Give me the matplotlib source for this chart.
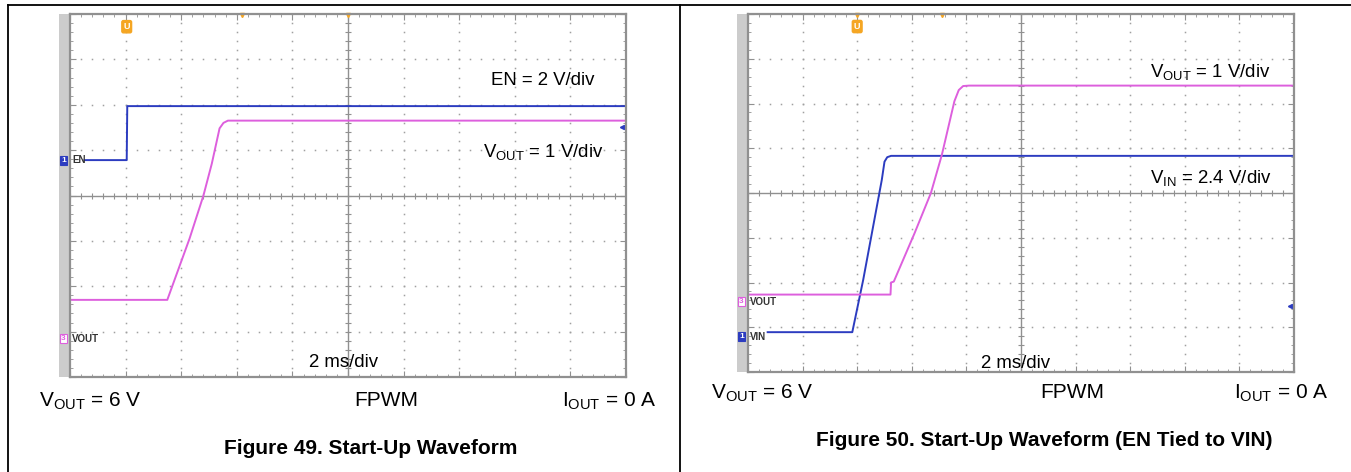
import numpy as np
import matplotlib.pyplot as plt
from matplotlib.patches import Rectangle
from matplotlib.lines import Line2D

plt.rcParams['font.family'] = ['Liberation Sans', 'DejaVu Sans']
plt.rcParams['mathtext.fontset'] = 'custom'
plt.rcParams['mathtext.rm'] = 'Liberation Sans'
plt.rcParams['mathtext.it'] = 'Liberation Sans'

W, H = 1351, 472

# traces, in scope divisions (x: 0..10 div, 2 ms/div ; y: -4..4 div)
# figure 49
en_x = [0.26, 1.02, 1.03, 10.0]
en_y = [0.78, 0.78, 1.97, 1.97]
vout1_x = [0.0, 1.75, 1.88, 2.15, 2.40, 2.55, 2.69, 2.76, 2.84, 10.0]
vout1_y = [-2.30, -2.30, -1.86, -0.95, 0.0, 0.70, 1.48, 1.60, 1.65, 1.65]
# figure 50
vin_x = [0.36, 1.91, 2.11, 2.45, 2.50, 2.55, 2.62, 10.0]
vin_y = [-3.11, -3.11, -1.94, 0.29, 0.70, 0.80, 0.83, 0.83]
vout2_x = [0.0, 2.61, 2.62, 2.67, 3.05, 3.35, 3.55, 3.78, 3.86, 3.94, 4.05, 10.0]
vout2_y = [-2.27, -2.27, -2.0, -1.98, -0.9, 0.0, 0.85, 2.05, 2.30, 2.39, 2.40, 2.40]

BLUE = '#2c3cc0'
PINK = '#dd5fdd'
GRID = '#a0a0a0'


def px(x, y):
    return x / W, 1 - y / H


def scope(fig, x0, y0, x1, y1):
    l, b = px(x0, y1)
    ax = fig.add_axes([l, b, (x1 - x0) / W, (y1 - y0) / H])
    ax.set_xlim(0, 10)
    ax.set_ylim(-4, 4)
    # gray strip on the left
    fig.patches.append(Rectangle(px(x0 - 11, y1), 11 / W, (y1 - y0) / H,
                                 transform=fig.transFigure, facecolor='#cccccc',
                                 edgecolor='none', zorder=-1))
    # dotted graticule
    fine_y = np.arange(-4, 4.01, 0.2)
    fine_x = np.arange(0, 10.01, 0.2)
    for gx in range(1, 10):
        if gx != 5:
            ax.plot([gx] * len(fine_y), fine_y, ls='none', marker='s', ms=1.1,
                    mec='none', mfc=GRID)
    for gy in range(-3, 4):
        if gy != 0:
            ax.plot(fine_x, [gy] * len(fine_x), ls='none', marker='s', ms=1.1,
                    mec='none', mfc=GRID)
    # center cross
    ax.axhline(0, color='#909090', lw=1.0)
    ax.axvline(5, color='#909090', lw=1.0)
    ax.plot(fine_x, [0] * len(fine_x), ls='none', marker='|', ms=4, mew=0.8, color='#909090')
    ax.plot([5] * len(fine_y), fine_y, ls='none', marker='_', ms=4, mew=0.8, color='#909090')
    ax.set_xticks(range(0, 11))
    ax.set_yticks(range(-4, 5))
    ax.set_xticks(fine_x, minor=True)
    ax.set_yticks(fine_y, minor=True)
    ax.tick_params(which='both', direction='in', top=True, right=True,
                   labelbottom=False, labelleft=False, color='#909090')
    ax.tick_params(which='major', length=4)
    ax.tick_params(which='minor', length=2.5)
    for s in ax.spines.values():
        s.set_color('#909090')
        s.set_linewidth(1.6)
    return ax


def ch_marker(ax, y, num, color, fill, label, tc):
    ax.text(-0.12, y, num, fontsize=6, color=tc, ha='center', va='center',
            fontweight='bold', clip_on=False, zorder=5,
            bbox=dict(boxstyle='square,pad=0.12', fc=fill, ec=color, lw=0.8))
    ax.text(0.04, y, label, fontsize=7, color='#333333', ha='left', va='center',
            fontweight='bold')


def trig(ax, x):
    ax.text(x, 3.72, 'U', fontsize=6.5, color='white', ha='center', va='center',
            fontweight='bold',
            bbox=dict(boxstyle='round,pad=0.18', fc='#f5a623', ec='#f5a623'))


fig = plt.figure(figsize=(W / 100, H / 100), dpi=100)
fig.add_artist(Line2D([7.5 / W, 1], [1 - 5 / H] * 2, color='black', lw=1.3))
fig.add_artist(Line2D([7.5 / W] * 2, [0, 1 - 5 / H], color='black', lw=1.3))
fig.add_artist(Line2D([679.5 / W] * 2, [0, 1 - 5 / H], color='black', lw=1.3))

# ---------------- Figure 49
ax1 = scope(fig, 70, 14, 626, 377)
ax1.plot(en_x, en_y, color=BLUE, lw=1.4)
ax1.plot(vout1_x, vout1_y, color=PINK, lw=1.4)
ch_marker(ax1, 0.78, '1', BLUE, BLUE, 'EN', 'white')
ch_marker(ax1, -3.16, '3', PINK, 'white', 'VOUT', PINK)
trig(ax1, 1.02)
ax1.plot([5, 3.09], [3.97, 3.97], ls='none', marker='v', ms=3, color='#f5a623', clip_on=False)
ax1.plot([9.93], [1.5], ls='none', marker='<', ms=3, color=BLUE)

fig.text(*px(543, 85), 'EN = 2 V/div', fontsize=13.4, ha='center', va='baseline')
fig.text(*px(543, 157), r'V$_{\mathrm{OUT}}$ = 1 V/div', fontsize=13.4, ha='center', va='baseline')
fig.text(*px(343.5, 367), '2 ms/div', fontsize=13.4, ha='center', va='baseline')
fig.text(*px(39, 406.5), r'V$_{\mathrm{OUT}}$ = 6 V', fontsize=15, ha='left', va='baseline')
fig.text(*px(386.6, 406.5), 'FPWM', fontsize=15, ha='center', va='baseline')
fig.text(*px(656, 406.5), r'I$_{\mathrm{OUT}}$ = 0 A', fontsize=15, ha='right', va='baseline')
fig.text(*px(371, 454), 'Figure 49. Start-Up Waveform', fontsize=15, fontweight='bold',
         ha='center', va='baseline')

# ---------------- Figure 50
ax2 = scope(fig, 748, 14, 1294, 372)
ax2.plot(vin_x, vin_y, color=BLUE, lw=1.4)
ax2.plot(vout2_x, vout2_y, color=PINK, lw=1.4)
ch_marker(ax2, -2.43, '3', PINK, 'white', 'VOUT', PINK)
ch_marker(ax2, -3.21, '1', BLUE, BLUE, 'VIN', 'white')
trig(ax2, 2.0)
ax2.plot([2.0, 3.55], [3.97, 3.97], ls='none', marker='v', ms=3, color='#f5a623', clip_on=False)
ax2.plot([9.93], [-2.52], ls='none', marker='<', ms=3, color=BLUE)

fig.text(*px(1210.7, 77), r'V$_{\mathrm{OUT}}$ = 1 V/div', fontsize=13.4, ha='center', va='baseline')
fig.text(*px(1210.7, 183.5), r'V$_{\mathrm{IN}}$ = 2.4 V/div', fontsize=13.4, ha='center', va='baseline')
fig.text(*px(1015.5, 368), '2 ms/div', fontsize=13.4, ha='center', va='baseline')
fig.text(*px(711, 398.5), r'V$_{\mathrm{OUT}}$ = 6 V', fontsize=15, ha='left', va='baseline')
fig.text(*px(1071.8, 398.5), 'FPWM', fontsize=15, ha='center', va='baseline')
fig.text(*px(1328, 398.5), r'I$_{\mathrm{OUT}}$ = 0 A', fontsize=15, ha='right', va='baseline')
fig.text(*px(1043.8, 446), 'Figure 50. Start-Up Waveform (EN Tied to VIN)', fontsize=15,
         fontweight='bold', ha='center', va='baseline')

fig.savefig('out.png', dpi=100, facecolor='white')
